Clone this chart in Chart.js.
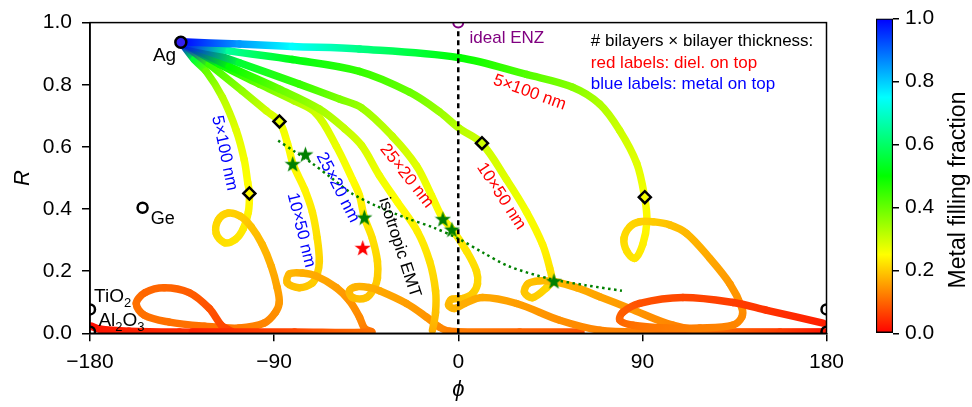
<!DOCTYPE html>
<html>
<head>
<meta charset="utf-8">
<script src="https://cdn.jsdelivr.net/npm/chart.js@4.4.1/dist/chart.umd.min.js"></script>
<style>
  html, body { margin: 0; padding: 0; background: #fff; }
  #wrap { position: relative; width: 972px; height: 407px; }
  #main { position: absolute; left: 0; top: 0; }
  #cbar { position: absolute; left: 866px; top: 0; }
</style>
</head>
<body>
<div id="wrap">
  <canvas id="main" width="972" height="407"></canvas>
  <canvas id="cbar" width="106" height="407"></canvas>
</div>
<script>
// phase (deg), reflectance R, metal filling fraction along each curve
const r5Phi = [-135.6,-107.0,-81.1,-48.3,0.6,33.4,55.9,69.1,78.9,87.2,91.1,92.2,90.2,86.3,82.4,81.0,83.9,88.7,95.1,103.4,111.7,123.0,132.8,138.6,138.6,134.2,118.1,101.5,85.4,79.0,80.4,88.7,109.8,134.3,150.9,178.3];
const r5R   = [0.938,0.931,0.923,0.915,0.887,0.833,0.792,0.738,0.653,0.548,0.438,0.359,0.286,0.241,0.264,0.305,0.343,0.359,0.359,0.349,0.321,0.241,0.159,0.083,0.052,0.026,0.017,0.017,0.026,0.042,0.067,0.096,0.115,0.099,0.074,0.033];
const r5F   = [1.0,0.85,0.75,0.63,0.5,0.42,0.37,0.33,0.3,0.28,0.26,0.245,0.235,0.225,0.22,0.215,0.21,0.205,0.2,0.19,0.18,0.165,0.15,0.14,0.135,0.13,0.125,0.12,0.11,0.1,0.09,0.08,0.07,0.06,0.05,0.03];

const r10Phi = [-135.6,-111.9,-81.1,-48.3,-23.8,-9.2,0.6,11.4,23.6,33.4,41.2,44.7,45.7,43.2,36.4,32.4,34.0,39.8,47.1,57.9,69.1,83.8,104.9,123.0,157.2,179];
const r10R   = [0.938,0.909,0.881,0.843,0.776,0.713,0.659,0.612,0.495,0.390,0.286,0.210,0.169,0.147,0.115,0.131,0.159,0.169,0.166,0.147,0.118,0.080,0.026,0.007,0.004,0.004];
const r10F   = [1.0,0.65,0.52,0.45,0.4,0.35,0.32,0.3,0.28,0.26,0.24,0.225,0.215,0.21,0.2,0.195,0.19,0.185,0.18,0.17,0.16,0.15,0.13,0.11,0.06,0.02];

const r25Phi = [-135.6,-107.0,-77.7,-58.1,-47.3,-32.2,-20.4,-13.1,-7.7,-2.8,4.1,8.9,9.4,7.0,2.1,-3.3,-4.7,-1.8,3.1,11.9,28.5,49.6,69.1,93.6,130,179];
const r25R   = [0.938,0.871,0.802,0.754,0.726,0.634,0.539,0.444,0.371,0.333,0.264,0.200,0.159,0.128,0.112,0.109,0.090,0.080,0.096,0.115,0.096,0.042,0.010,0.004,0.003,0.003];
const r25F   = [1.0,0.55,0.45,0.38,0.35,0.31,0.28,0.26,0.245,0.235,0.225,0.215,0.21,0.2,0.19,0.185,0.18,0.175,0.17,0.165,0.155,0.14,0.13,0.12,0.07,0.02];

const midPhi = [-135.6,-111.9,-87.4,-67.9,-55.6,-47.3,-38.5,-29.7,-19.9,-14.0,-11.1,-11.1,-12.6];
const midR   = [0.938,0.859,0.786,0.722,0.659,0.605,0.507,0.422,0.327,0.232,0.137,0.067,0.010];
const midF   = [1.0,0.5,0.4,0.34,0.31,0.29,0.265,0.25,0.235,0.22,0.205,0.19,0.17];

const b25Phi = [-135.6,-116.8,-97.2,-80.1,-69.4,-59.6,-51.7,-48.3,-45.9,-42.0,-39.5,-39.5,-41.0,-44.9,-51.7,-53.2,-49.7,-43.4,-38.5,-25.3,-15.5,-9.2,-4.3,30,60];
const b25R   = [0.938,0.866,0.802,0.748,0.707,0.602,0.495,0.444,0.374,0.305,0.232,0.178,0.147,0.115,0.115,0.137,0.150,0.147,0.137,0.096,0.052,0.020,0.007,0.004,0.004];
const b25F   = [1.0,0.5,0.4,0.33,0.3,0.27,0.25,0.24,0.23,0.22,0.21,0.2,0.195,0.19,0.185,0.18,0.175,0.17,0.165,0.155,0.145,0.135,0.125,0.1,0.08];

const b10Phi = [-135.6,-121.7,-105.6,-93.8,-87.4,-83.5,-80.6,-75.1,-71.3,-68.9,-67.9,-68.9,-71.3,-77.7,-83.5,-82.5,-76.2,-69.3,-59.6,-53.2,-48.3,-45.9,-42.4,-80,-130];
const b10R   = [0.938,0.866,0.780,0.716,0.681,0.612,0.542,0.463,0.390,0.305,0.232,0.191,0.162,0.147,0.162,0.191,0.194,0.184,0.147,0.105,0.052,0.017,0.004,0.004,0.004];
const b10F   = [1.0,0.45,0.36,0.3,0.27,0.255,0.245,0.24,0.23,0.22,0.21,0.205,0.2,0.19,0.185,0.18,0.17,0.165,0.155,0.145,0.135,0.125,0.11,0.07,0.03];

const b5Phi = [-135.6,-129.0,-123.2,-115.3,-108.5,-104.6,-102.9,-102.1,-102.6,-105.1,-109.0,-114.3,-118.3,-117.3,-112.4,-106.5,-101.2,-95.8,-91.4,-88.5,-87.5,-89.4,-94.8,-107.0,-124.1,-141.2,-153.4,-157.4,-153.0,-143.7,-131.5,-121.7,-115.8,-110.9,-136.3,-160.8,-175.5,-179.4];
const b5R   = [0.938,0.881,0.843,0.760,0.653,0.558,0.485,0.450,0.390,0.336,0.302,0.292,0.321,0.365,0.387,0.377,0.343,0.286,0.216,0.147,0.099,0.067,0.033,0.017,0.023,0.036,0.058,0.096,0.131,0.147,0.131,0.080,0.026,0.004,0.004,0.007,0.014,0.023];
const b5F   = [1.0,0.55,0.4,0.32,0.28,0.26,0.25,0.245,0.24,0.23,0.225,0.22,0.215,0.21,0.205,0.2,0.19,0.18,0.17,0.16,0.15,0.14,0.13,0.12,0.11,0.11,0.11,0.11,0.1,0.1,0.09,0.08,0.07,0.06,0.04,0.03,0.02,0.01];

const emtPhi = [-88,-80,-72,-62,-52,-40,-25,-12,0,12,25,45,62,80];
const emtR   = [0.62,0.585,0.55,0.50,0.45,0.41,0.37,0.34,0.305,0.26,0.215,0.175,0.155,0.137];

const starPhi = [-80.9,-74.7,-45.9,-7.5,-3.1,46.8];
const starR   = [0.546,0.577,0.374,0.369,0.335,0.169];
const redStarPhi = [-46.7];
const redStarR   = [0.276];
const diamondPhi = [-102.1,-87.4,11.6,91.2];
const diamondR   = [0.450,0.682,0.612,0.438];

const agPt  = [-135.6, 0.937];
const gePt  = [-154.3, 0.404];
const tioPhi = [-180, 180], tioR = [0.077, 0.077];
const aloPhi = [-180, 180], aloR = [0.005, 0.005];
const enzPt = [0, 1.0];

const FONT = "'Liberation Sans', Arial, Helvetica, sans-serif";

function colorOf(f) {
  f = Math.max(0, Math.min(1, f));
  return 'hsl(' + (240 * f) + ',100%,50%)';
}

function pts(xs, ys) {
  return xs.map((x, i) => ({ x: x, y: ys[i] }));
}

function curve(phi, r, frac) {
  return {
    data: pts(phi, r),
    showLine: true,
    borderWidth: 7.5,
    borderColor: colorOf(frac[0]),
    pointRadius: 0,
    tension: 0.35,
    borderCapStyle: 'round',
    borderJoinStyle: 'round',
    clip: 0,
    segment: {
      borderColor: ctx => {
        const g = ctx.chart.ctx.createLinearGradient(ctx.p0.x, ctx.p0.y, ctx.p1.x, ctx.p1.y);
        g.addColorStop(0, colorOf(frac[ctx.p0DataIndex]));
        g.addColorStop(1, colorOf(frac[ctx.p1DataIndex]));
        return g;
      }
    }
  };
}

function starImage(color, size) {
  const c = document.createElement('canvas');
  c.width = c.height = size;
  const g = c.getContext('2d');
  const R = size / 2, r = R * 0.4;
  g.beginPath();
  for (let i = 0; i < 10; i++) {
    const a = -Math.PI / 2 + i * Math.PI / 5;
    const rad = i % 2 ? r : R;
    g.lineTo(R + rad * Math.cos(a), R + 1 + rad * Math.sin(a));
  }
  g.closePath();
  g.fillStyle = color;
  g.fill();
  return c;
}

function marker(xs, ys, opts) {
  return Object.assign({ data: pts(xs, ys), showLine: false, clip: 0 }, opts);
}

// text annotations: position in data units, rotation in degrees (clockwise)
const notes = [
  { parts: [['Ag', 0]], x: -137.9, y: 0.878, size: 19, align: 'right', color: '#000' },
  { parts: [['Ge', 0]], x: -150.3, y: 0.353, size: 18, align: 'left', color: '#000' },
  { parts: [['TiO', 0], ['2', 1]], x: -178.0, y: 0.100, size: 19, align: 'left', color: '#000' },
  { parts: [['Al', 0], ['2', 1], ['O', 0], ['3', 1]], x: -175.9, y: 0.024, size: 19, align: 'left', color: '#000' },
  { parts: [['ideal ENZ', 0]], x: 5.5, y: 0.934, size: 17, align: 'left', color: '#800080' },
  { parts: [['# bilayers \u00d7 bilayer thickness:', 0]], x: 64.8, y: 0.925, size: 17, align: 'left', color: '#000' },
  { parts: [['red labels: diel. on top', 0]], x: 64.8, y: 0.854, size: 17, align: 'left', color: '#ff0000' },
  { parts: [['blue labels: metal on top', 0]], x: 64.8, y: 0.785, size: 17, align: 'left', color: '#0000ff' }
];
const rotNotes = [
  { text: '5\u00d7100 nm', x: -114.3, y: 0.580, rot: 78, color: '#0000ff' },
  { text: '10\u00d750 nm', x: -76.8, y: 0.332, rot: 76, color: '#0000ff' },
  { text: '25\u00d720 nm', x: -58.9, y: 0.469, rot: 63, color: '#0000ff' },
  { text: 'isotropic EMT', x: -28.7, y: 0.276, rot: 72, color: '#000' },
  { text: '25\u00d720 nm', x: -25.2, y: 0.506, rot: 52, color: '#ff0000' },
  { text: '10\u00d750 nm', x: 21.0, y: 0.441, rot: 57, color: '#ff0000' },
  { text: '5\u00d7100 nm', x: 34.9, y: 0.775, rot: 20, color: '#ff0000' }
];

const annotate = {
  id: 'annotate',
  afterDatasetsDraw(chart) {
    const { ctx, chartArea: a, scales: { x, y } } = chart;
    ctx.save();
    ctx.strokeStyle = '#000';
    ctx.lineWidth = 1.5;
    ctx.strokeRect(a.left, a.top, a.right - a.left, a.bottom - a.top);

    ctx.textBaseline = 'alphabetic';
    notes.forEach(n => {
      let px = x.getPixelForValue(n.x);
      const py = y.getPixelForValue(n.y);
      const fontOf = p => (p[1] ? Math.round(n.size * 0.68) : n.size) + 'px ' + FONT;
      ctx.fillStyle = n.color;
      const widths = n.parts.map(p => {
        ctx.font = fontOf(p);
        return ctx.measureText(p[0]).width;
      });
      if (n.align === 'right') px -= widths.reduce((s, w) => s + w, 0);
      ctx.textAlign = 'left';
      n.parts.forEach((p, i) => {
        ctx.font = fontOf(p);
        ctx.fillText(p[0], px, py + (p[1] ? 5 : 0));
        px += widths[i];
      });
    });

    ctx.font = '17px ' + FONT;
    ctx.textAlign = 'center';
    ctx.textBaseline = 'middle';
    rotNotes.forEach(n => {
      ctx.save();
      ctx.translate(x.getPixelForValue(n.x), y.getPixelForValue(n.y));
      ctx.rotate(n.rot * Math.PI / 180);
      ctx.fillStyle = n.color;
      ctx.fillText(n.text, 0, 0);
      ctx.restore();
    });
    ctx.restore();
  }
};

const greenStar = starImage('#008000', 17);
const redStar = starImage('#ff0000', 17);
const clear = 'rgba(0,0,0,0)';

new Chart(document.getElementById('main'), {
  type: 'scatter',
  data: {
    datasets: [
      marker([agPt[0]], [agPt[1]], { pointRadius: 5.5, pointBackgroundColor: '#3320f0', pointBorderColor: '#000', pointBorderWidth: 2.5 }),
      marker([gePt[0]], [gePt[1]], { pointRadius: 5, pointBackgroundColor: clear, pointBorderColor: '#000', pointBorderWidth: 2.5 }),
      marker(tioPhi, tioR, { pointRadius: 5, pointBackgroundColor: clear, pointBorderColor: '#000', pointBorderWidth: 2.5 }),
      marker(aloPhi, aloR, { pointRadius: 5, pointBackgroundColor: clear, pointBorderColor: '#000', pointBorderWidth: 2.5 }),
      marker([enzPt[0]], [enzPt[1]], { pointRadius: 5, pointBackgroundColor: '#fff', pointBorderColor: '#800080', pointBorderWidth: 2 }),
      marker(starPhi, starR, { pointStyle: greenStar }),
      marker(redStarPhi, redStarR, { pointStyle: redStar }),
      marker(diamondPhi, diamondR, { pointStyle: 'rectRot', pointRadius: 6, pointBackgroundColor: clear, pointBorderColor: '#000', pointBorderWidth: 2.5 }),
      { data: pts([0, 0], [0, 0.975]), showLine: true, borderColor: '#000', borderWidth: 2.5, borderDash: [5, 4], pointRadius: 0, clip: 0 },
      { data: pts(emtPhi, emtR), showLine: true, borderColor: '#008000', borderWidth: 2.5, borderDash: [2.5, 3.5], pointRadius: 0, tension: 0.3, clip: 0 },
      curve(r5Phi, r5R, r5F),
      curve(r10Phi, r10R, r10F),
      curve(r25Phi, r25R, r25F),
      curve(midPhi, midR, midF),
      curve(b25Phi, b25R, b25F),
      curve(b10Phi, b10R, b10F),
      curve(b5Phi, b5R, b5F)
    ]
  },
  options: {
    responsive: false,
    animation: false,
    layout: { padding: { left: 0, right: 145.5, top: 18, bottom: 0 } },
    plugins: { legend: { display: false }, tooltip: { enabled: false } },
    scales: {
      x: {
        type: 'linear', min: -180, max: 180,
        ticks: { stepSize: 90, padding: 8, color: '#000', font: { family: FONT, size: 21 }, maxRotation: 0,
                 callback: v => String(v).replace('-', '\u2212') },
        grid: { drawOnChartArea: false, drawTicks: true, tickLength: 8, color: '#000', lineWidth: 1.5 },
        border: { display: true, color: '#000', width: 1.5 },
        title: { display: true, text: '\u03d5', color: '#000', font: { family: FONT, size: 22, style: 'italic' }, padding: { top: 0, bottom: 4 } },
        afterFit: s => { s.height = 73.7; }
      },
      y: {
        min: 0, max: 1,
        ticks: { stepSize: 0.2, padding: 10, color: '#000', font: { family: FONT, size: 21 }, callback: v => v.toFixed(1) },
        grid: { drawOnChartArea: false, drawTicks: true, tickLength: 8, color: '#000', lineWidth: 1.5 },
        border: { display: true, color: '#000', width: 1.5 },
        title: { display: true, text: 'R', color: '#000', font: { family: FONT, size: 22, style: 'italic' }, padding: { top: 10, bottom: 0 } },
        afterFit: s => { s.width = 90; }
      }
    }
  },
  plugins: [annotate]
});

// colorbar
const cbarTicks = [0, 0.2, 0.4, 0.6, 0.8, 1.0];
const cbarTitle = {
  id: 'cbarTitle',
  afterDraw(chart) {
    const { ctx } = chart;
    ctx.save();
    ctx.translate(93, 190);
    ctx.rotate(-Math.PI / 2);
    ctx.font = '23px ' + FONT;
    ctx.fillStyle = '#000';
    ctx.textAlign = 'center';
    ctx.textBaseline = 'middle';
    ctx.fillText('Metal filling fraction', 0, 0);
    ctx.restore();
  }
};

new Chart(document.getElementById('cbar'), {
  type: 'bar',
  data: {
    labels: ['f'],
    datasets: [{
      data: [1],
      backgroundColor: ctx => {
        const a = ctx.chart.chartArea;
        if (!a) return null;
        const g = ctx.chart.ctx.createLinearGradient(0, a.bottom, 0, a.top);
        for (let k = 0; k <= 20; k++) g.addColorStop(k / 20, colorOf(k / 20));
        return g;
      },
      borderColor: '#000',
      borderWidth: 1.5,
      borderSkipped: false,
      barPercentage: 1,
      categoryPercentage: 1
    }]
  },
  options: {
    responsive: false,
    animation: false,
    layout: { padding: { left: 10, right: 0, top: 18, bottom: 73.7 } },
    plugins: { legend: { display: false }, tooltip: { enabled: false } },
    scales: {
      x: { display: false },
      y: {
        position: 'right', min: 0, max: 1,
        afterBuildTicks: s => { s.ticks = cbarTicks.map(v => ({ value: v })); },
        ticks: { padding: 6, color: '#000', font: { family: FONT, size: 21 }, callback: v => v.toFixed(1) },
        grid: { drawOnChartArea: false, drawTicks: true, tickLength: 6, color: '#000', lineWidth: 1.5 },
        border: { display: false },
        afterFit: s => { s.width = 79; }
      }
    }
  },
  plugins: [cbarTitle]
});
</script>
</body>
</html>
